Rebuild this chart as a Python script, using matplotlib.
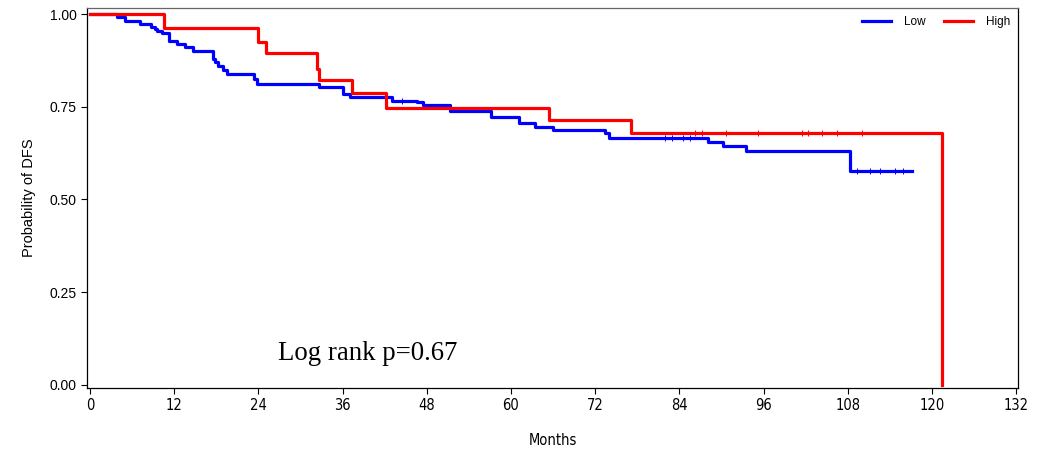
import numpy as np
import matplotlib.pyplot as plt

# Kaplan-Meier step data (months, survival)
low_t = [0, 3.9, 5.0, 7.1, 8.7, 9.2, 9.6, 10.2, 11.2, 12.4, 13.5, 14.7, 17.5, 17.8,
         18.3, 19.0, 19.5, 23.3, 23.8, 32.7, 36.0, 37.1, 43.0, 46.6, 47.5, 51.3,
         57.1, 61.1, 63.4, 66.0, 73.4, 73.9, 88.1, 90.2, 93.5, 108.3, 117.2]
low_s = [1.0, 0.993, 0.981, 0.972, 0.964, 0.959, 0.954, 0.948, 0.928, 0.920, 0.912,
         0.900, 0.880, 0.871, 0.861, 0.849, 0.838, 0.826, 0.811, 0.802, 0.784, 0.777,
         0.766, 0.762, 0.756, 0.739, 0.723, 0.705, 0.696, 0.687, 0.678, 0.667, 0.656,
         0.644, 0.630, 0.578, 0.578]

high_t = [0, 10.6, 24.0, 25.1, 32.3, 32.6, 37.3, 42.2, 65.4, 77.1, 121.4]
high_s = [1.0, 0.963, 0.925, 0.894, 0.853, 0.822, 0.786, 0.747, 0.714, 0.678, 0.0]

# censored observations (months)
low_cens = [44.5, 82.0, 83.0, 84.5, 85.5, 109.3, 111.2, 112.6, 114.8, 115.9]
high_cens = [86.2, 87.2, 90.7, 95.2, 101.5, 102.4, 104.4, 106.5, 110.0]

x_ticks = list(range(0, 133, 12))
y_ticks = [0.0, 0.25, 0.5, 0.75, 1.0]

NARROW = ['Liberation Sans Narrow', 'DejaVu Sans']


def surv_at(t_list, s_list, t):
    idx = np.searchsorted(t_list, t, side='right') - 1
    return s_list[idx]


def main():
    fig = plt.figure(figsize=(10.41, 4.5), dpi=100)
    ax = fig.add_axes([0.0836, 0.138, 0.8944, 0.844])

    ax.plot(low_t, low_s, drawstyle='steps-post', color='#0000ff', linewidth=2.3, label='Low')
    ax.plot(high_t, high_s, drawstyle='steps-post', color='#ff0000', linewidth=2.3, label='High')

    ax.plot(low_cens, [surv_at(low_t, low_s, t) for t in low_cens], linestyle='none',
            marker='|', markersize=4, color='#0000ff', markeredgewidth=0.7)
    ax.plot(high_cens, [surv_at(high_t, high_s, t) for t in high_cens], linestyle='none',
            marker='|', markersize=4, color='#ff0000', markeredgewidth=0.7)

    ax.set_xlim(-0.43, 132.28)
    ax.set_ylim(-0.008, 1.016)
    ax.set_xticks(x_ticks)
    ax.set_yticks(y_ticks)
    ax.set_yticklabels([f'{v:.2f}' for v in y_ticks], fontsize=10,
                       family=['Liberation Sans', 'DejaVu Sans'])
    ax.set_xticklabels([str(v) for v in x_ticks], fontsize=10.5, family=NARROW,
                       fontstretch='condensed')
    ax.tick_params(direction='out', length=4, width=0.8)

    ax.set_xlabel('Months', fontsize=10.5, labelpad=14, family=NARROW, fontstretch='condensed')
    ax.set_ylabel('Probability of DFS', fontsize=10.5, labelpad=10,
                  family=['Liberation Sans', 'DejaVu Sans'])

    for s in ax.spines.values():
        s.set_linewidth(0.9)
    ax.spines['top'].set_color('#666666')

    ax.text(26.8, 0.085, 'Log rank p=0.67', fontsize=19.3, va='center',
            family=['Liberation Serif', 'DejaVu Serif'])

    ax.legend(loc='upper right', ncol=2, frameon=False,
              handlelength=2.5, handletextpad=1.1, columnspacing=1.5, borderaxespad=0.25,
              prop={'family': ['Liberation Sans', 'DejaVu Sans'], 'size': 8.5})

    fig.savefig('out.png', dpi=100)


if __name__ == '__main__':
    main()
